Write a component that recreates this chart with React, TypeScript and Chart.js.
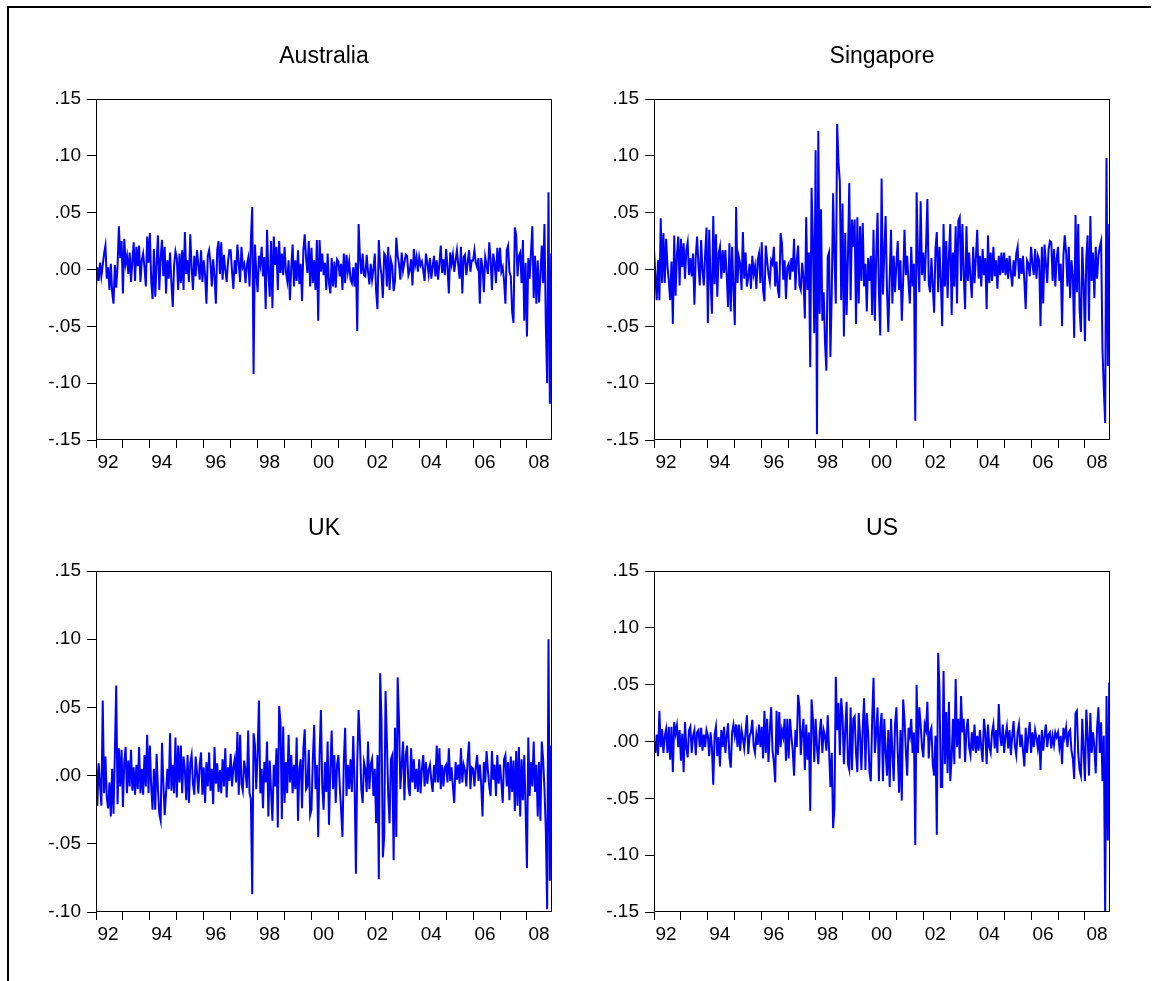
import React, { useEffect, useRef } from 'react';
import { Chart, registerables } from 'chart.js';

Chart.register(...registerables);

// ---- time axis ----
const years = [1992, 1993, 1994, 1995, 1996, 1997, 1998, 1999, 2000, 2001, 2002, 2003, 2004, 2005, 2006, 2007, 2008];
const obsPerYear = 20;
const xMin = 1992;
const xMax = 2008.93;
const xTickYears = years;
const xTickLabels = ['92', '', '94', '', '96', '', '98', '', '00', '', '02', '', '04', '', '06', '', '08'];

// ---- value axes ----
const yTicksWide = [-0.15, -0.1, -0.05, 0, 0.05, 0.1, 0.15];
const yLabelsWide = ['-.15', '-.10', '-.05', '.00', '.05', '.10', '.15'];
const yTicksUK = [-0.1, -0.05, 0, 0.05, 0.1, 0.15];
const yLabelsUK = ['-.10', '-.05', '.00', '.05', '.10', '.15'];

// ---- series: returns in thousandths, one row per year (1992..2008) ----
const australiaMilli: number[][] = [
  [-15, 2, -10, 6, -6, 4, 14, 21, -8, 2, -18, 5, -20, -30, 4, -16, 3, 38, 10, 25],
  [-21, 27, 5, 12, -4, 15, -11, 8, 24, -10, 20, 3, 21, -11, 8, 14, 2, -15, 29, 6],
  [32, -10, -26, 18, -24, 6, 30, -18, 10, 26, -6, 20, -21, 8, -8, 15, -12, -33, 4, 16],
  [10, -18, 14, -12, 17, -18, 33, -4, 8, -11, 31, 2, -18, 12, -6, 17, 4, -9, 17, -11],
  [8, -5, -30, 12, 17, 6, -15, 9, -6, -30, 17, 25, -4, 24, -9, 13, 0, -11, 6, 17],
  [17, -2, -17, 8, -4, 22, 6, -11, 20, 2, 5, -12, 4, 10, -15, 26, 55, -92, 22, -2],
  [-20, 12, 4, 20, -6, 11, -35, 35, -2, -24, 25, -34, 29, 4, 20, -18, 25, -3, 14, -5],
  [20, -2, -10, 8, -27, 2, 22, -15, 8, -10, 17, -13, 5, -28, 17, 31, 10, -3, 25, -15],
  [19, -12, 8, -18, 26, -45, 26, -2, 14, -5, 6, -18, 14, -12, -21, 10, -15, 7, -16, 9],
  [7, -6, 5, -18, 14, -12, 13, -2, 7, -9, -12, 2, -15, 6, -54, 40, 11, -4, 14, -5],
  [-6, 13, -2, -13, 5, -9, 0, 14, -19, -35, 26, 4, -5, -25, 14, 12, -15, 20, -18, 8],
  [3, -19, -10, 28, 12, 5, -9, 15, -1, 6, 13, 12, -5, -1, 9, -14, 18, 4, 11, -2],
  [11, 4, 7, -1, -10, 14, 6, -4, 10, -8, 3, 12, -6, 8, -9, 5, 21, -3, 9, -5],
  [18, 2, -21, 15, 5, 13, -2, 8, 17, 4, -8, 20, -21, 11, 13, -5, 6, 17, -2, 8],
  [8, 17, 6, 2, 10, -30, 10, 2, -20, 11, 4, -4, 24, 9, -18, 14, 6, -12, 19, -2],
  [19, -2, 2, -10, -30, 17, 21, -2, -6, -37, -47, 37, 30, -6, 12, 15, -12, 26, -45, 6],
  [-59, 10, -8, 15, 38, -25, 12, -30, 8, -29, -5, 21, -12, 40, -48, -100, 68, -118, 14],
];

const singaporeMilli: number[][] = [
  [18, -5, -27, 8, -27, 45, -12, 32, -12, 27, 3, -10, -27, 7, -48, 30, -23, 12, 29, -14],
  [27, 2, 23, -8, 17, 24, -5, 10, -6, 14, -31, 11, 29, 4, -14, 26, -1, -14, 14, 37],
  [-47, 35, -10, -39, 47, -13, 31, -24, 14, 20, -8, 17, -3, 17, -5, -33, 23, -37, 20, -18],
  [-49, 55, -12, 11, 5, -18, 33, -8, 15, -15, -6, 5, -17, 12, -4, 3, -17, 8, 14, -12],
  [24, -18, -28, 21, 8, -4, -11, 8, 5, 20, -15, 7, -18, -25, 32, 23, -9, 8, -26, 2],
  [5, -9, 10, -2, 27, -18, 8, 21, -14, -18, 6, -8, -43, 46, -18, 15, -86, 72, 25, -56],
  [105, -145, 122, -39, 53, -45, -20, -65, -89, 11, 15, -77, -20, 67, 10, -30, 128, 94, 77, -27],
  [58, -59, 32, -40, 10, 76, -27, 44, 20, 44, -48, 46, -30, 38, -10, 41, -15, 5, -37, 10],
  [-10, 12, -40, 35, -45, 12, 50, -20, -58, 80, -22, 15, 47, -18, -55, -8, 35, -30, 12, -20],
  [5, 25, -18, 8, -45, -10, 35, -5, 12, -12, -30, 20, -15, 5, -133, 68, 10, -20, 60, -5],
  [15, -10, 20, 62, -12, -20, 10, -15, -38, 18, 33, -20, 20, -10, -50, 40, -15, 25, -25, 12],
  [40, -40, 15, -15, 38, -30, 43, 46, -10, 40, -5, -35, 38, -10, 15, -8, -25, 20, -12, 10],
  [35, -8, 12, -15, 18, -5, 10, -35, 30, -12, 15, -10, 20, -6, 8, -17, 12, -5, 15, -3],
  [15, -5, 10, -8, 12, -3, -15, 8, -6, 14, 20, -8, 10, -4, 12, -10, -35, 8, 5, -6],
  [20, 5, -5, 18, -8, 12, 8, -50, 20, -30, 22, 5, -12, 18, 25, 24, -10, 18, -15, 10],
  [20, -10, 5, -50, 12, 30, 15, -15, 20, -25, 8, -5, -60, 48, -20, 40, -35, -55, 20, -10],
  [-63, 10, 30, -45, 47, -10, 15, -25, 20, -8, 12, 20, 25, -70, -105, -135, 98, -85, 40],
];

const ukMilli: number[][] = [
  [10, -22, 9, -7, -22, 55, -13, 14, -16, -24, -5, -30, 5, -28, 16, 66, -21, 20, -8, 19],
  [-23, 10, 21, -13, 11, -8, 19, -11, 6, -14, 8, -10, 21, -13, 5, -14, 15, -8, 30, -13],
  [22, -8, -25, 5, -25, 16, -10, -28, -33, 24, -5, -29, -13, 5, -10, 31, -11, 8, -13, 28],
  [-16, 22, -5, 22, -13, 14, 4, -18, 15, -20, 9, 15, -6, -14, 14, 2, -13, 8, 17, -14],
  [6, -20, 10, -8, 17, -11, 5, -21, 21, -6, 9, -12, 4, -13, 12, -8, 20, -16, 6, -4],
  [16, -8, 6, 12, -5, 32, -14, 30, -6, -11, 11, 4, -9, 33, -13, -17, -87, 31, 23, -10],
  [16, 55, -13, 5, -24, 10, -5, 25, -30, 11, -12, -33, 8, -8, 20, -38, 51, 39, -32, 36],
  [-20, 10, -13, 30, -5, 15, -13, 8, -10, 28, -33, 5, 12, -24, 20, 34, -10, -8, 19, -29],
  [-25, 12, 37, -10, 8, -45, 15, 48, -8, -25, 10, -12, 25, -36, 5, 33, -10, 15, -20, 8],
  [15, -8, -25, -45, 10, 35, -15, 8, -10, 12, -12, 29, -5, -72, 10, 48, 25, -10, -20, 10],
  [5, -12, 25, -10, 8, 12, -15, 5, -35, 15, -76, 75, 40, -60, -45, 62, 25, -15, -35, 12],
  [15, -62, 35, -45, 72, 40, -10, 8, 25, -18, 15, 22, -8, -15, 20, -5, 12, -10, 5, -12],
  [12, -13, 5, 15, -8, 10, -6, 4, 8, -4, -12, 8, -5, 22, -5, 20, -10, 8, -8, 6],
  [8, -5, 20, -4, 6, -8, -20, 10, -3, 8, -6, 20, -5, 8, 4, -8, 12, 25, -10, 6],
  [5, -8, 6, 15, -4, 8, -6, -30, 10, -5, 18, 4, -8, -15, 18, -3, 8, -15, 15, -6],
  [8, -5, -20, 12, 15, -8, 10, -18, 14, -12, 11, -26, 18, -22, 21, -30, 12, -18, 15, -25],
  [-68, 28, -15, 10, -8, 25, -12, 8, -30, 10, -33, 25, 12, -10, -40, -98, 100, -77, 22],
];

const usMilli: number[][] = [
  [0, -10, 6, -13, 27, -5, 11, -10, 5, 11, -10, 13, -16, 13, -27, 17, 7, 14, -5, 10],
  [-17, 7, -27, 17, -5, -14, 10, 13, -10, 5, 10, -12, 8, 10, -5, 12, -8, 6, -5, 10],
  [5, -13, 8, -5, -38, 6, 13, -13, 4, -22, 10, -5, 13, -10, 5, 16, -14, -23, 8, 15],
  [5, 15, -5, 15, -8, 10, 3, -6, 8, 23, -11, 5, 8, 19, -4, -10, 6, -3, 15, -5],
  [13, -15, 27, -10, 20, -18, 10, 30, -8, -18, -36, 27, -12, 26, -5, 10, 4, 20, -17, 20],
  [-15, 20, 5, -8, -30, 10, -5, 41, 30, -12, 8, 20, -25, 15, -16, 8, -61, 37, 20, -18],
  [20, -5, -20, 8, 20, -10, 10, 5, -8, 23, -8, -40, -10, -76, -58, 57, 10, 34, -12, 38],
  [22, -20, 10, 35, -20, -25, 30, -25, 20, 22, -10, -27, 25, 5, -25, 12, 38, -25, 25, 8],
  [-27, -35, 20, 56, -10, 8, 30, -35, 12, 25, -35, 20, -8, -30, 10, -40, 20, -10, -35, 15],
  [30, -10, -45, 10, -52, 37, 20, -8, -30, 12, 5, 20, -10, 8, -91, 50, -10, 30, 15, -5],
  [-14, 15, 10, 35, -15, 8, 12, -20, -30, 5, -82, 78, 45, -40, -40, 62, -20, 26, -28, 35],
  [-35, -15, 20, -20, 55, -5, 20, -15, 40, 8, 20, -18, 10, 20, -5, -12, 8, -8, 15, -10],
  [5, -8, 10, -5, -18, 20, 8, -20, 15, -5, -10, 8, 15, -6, 10, -10, 33, 5, -4, 15],
  [-10, 5, 13, -6, 10, -12, 5, 18, -4, -12, 8, 15, -5, 6, -8, -22, 12, -10, 5, 17],
  [-10, 8, -5, 10, 3, -6, 6, -25, 10, -8, 5, 15, -5, 6, 8, -6, 5, -3, 8, 4],
  [8, -5, 5, -20, 12, 4, 12, -5, 8, 10, -8, -15, -33, 25, 27, -10, -25, -30, 20, -8],
  [-35, 28, 5, -30, 25, -10, 8, -5, -28, 12, 30, -10, 17, -35, 5, -150, 40, -87, 52],
];

const FONT = '"Liberation Sans", Arial, Helvetica, sans-serif';
const CANVAS_W = 552;
const CANVAS_H = 460;

type PanelProps = {
  title: string;
  rows: number[][];
  yTicks: number[];
  yLabels: string[];
  left: number;
  top: number;
};

function Panel({ title, rows, yTicks, yLabels, left, top }: PanelProps) {
  const ref = useRef<HTMLCanvasElement | null>(null);

  useEffect(() => {
    const canvas = ref.current;
    if (!canvas) return;
    const points = rows.flatMap((row, r) =>
      row.map((v, k) => ({ x: years[r] + k / obsPerYear, y: v / 1000 }))
    );
    const decor = {
      id: 'decor',
      afterDraw(chart: any) {
        const { ctx, chartArea: a } = chart;
        ctx.save();
        ctx.strokeStyle = '#000';
        ctx.lineWidth = 1;
        ctx.strokeRect(
          Math.round(a.left) + 0.5,
          Math.round(a.top) + 0.5,
          Math.round(a.right - a.left) - 1,
          Math.round(a.bottom - a.top) - 1
        );
        ctx.fillStyle = '#000';
        ctx.font = `23px ${FONT}`;
        ctx.textAlign = 'center';
        ctx.textBaseline = 'middle';
        ctx.fillText(title, (a.left + a.right) / 2, a.top - 42);
        ctx.restore();
      },
    };
    const chart = new Chart(canvas, {
      type: 'line',
      data: {
        datasets: [
          {
            data: points,
            borderColor: '#0000FF',
            borderWidth: 2,
            pointRadius: 0,
            fill: false,
            tension: 0,
            borderJoinStyle: 'miter',
          },
        ],
      },
      options: {
        animation: false,
        responsive: false,
        events: [],
        layout: { padding: { left: 16, top: 69, right: 20, bottom: 10 } },
        plugins: {
          legend: { display: false },
          tooltip: { enabled: false },
          title: { display: false },
        },
        scales: {
          x: {
            type: 'linear',
            min: xMin,
            max: xMax,
            afterBuildTicks: (scale: any) => {
              scale.ticks = xTickYears.map((v) => ({ value: v }));
            },
            afterFit: (scale: any) => {
              scale.height = 40;
            },
            border: { display: false },
            grid: { drawOnChartArea: false, drawTicks: true, tickLength: 8, color: '#000', lineWidth: 1 },
            ticks: {
              autoSkip: false,
              maxRotation: 0,
              minRotation: 0,
              labelOffset: 12,
              padding: 3,
              color: '#000',
              font: { family: FONT, size: 19 },
              callback: (_v: any, i: number) => xTickLabels[i] ?? '',
            },
          },
          y: {
            type: 'linear',
            min: yTicks[0],
            max: yTicks[yTicks.length - 1],
            afterBuildTicks: (scale: any) => {
              scale.ticks = yTicks.map((v) => ({ value: v }));
            },
            afterFit: (scale: any) => {
              scale.width = 60;
            },
            border: { display: false },
            grid: { drawOnChartArea: false, drawTicks: true, tickLength: 9, color: '#000', lineWidth: 1 },
            ticks: {
              autoSkip: false,
              padding: 6,
              color: '#000',
              font: { family: FONT, size: 19 },
              callback: (_v: any, i: number) => yLabels[i] ?? '',
            },
          },
        },
      },
      plugins: [decor],
    });
    return () => chart.destroy();
  }, [title, rows, yTicks, yLabels]);

  return (
    <canvas
      ref={ref}
      width={CANVAS_W}
      height={CANVAS_H}
      style={{ position: 'absolute', left, top, width: CANVAS_W, height: CANVAS_H }}
    />
  );
}

export default function App() {
  return (
    <div
      style={{
        position: 'absolute',
        left: 0,
        top: 0,
        width: 1156,
        height: 981,
        overflow: 'hidden',
        background: '#fff',
      }}
    >
      <div style={{ position: 'absolute', left: 7, top: 6, width: 1144, height: 2, background: '#000' }} />
      <div style={{ position: 'absolute', left: 7, top: 6, width: 2, height: 975, background: '#000' }} />
      <Panel title="Australia" rows={australiaMilli} yTicks={yTicksWide} yLabels={yLabelsWide} left={20} top={30} />
      <Panel title="Singapore" rows={singaporeMilli} yTicks={yTicksWide} yLabels={yLabelsWide} left={578} top={30} />
      <Panel title="UK" rows={ukMilli} yTicks={yTicksUK} yLabels={yLabelsUK} left={20} top={502} />
      <Panel title="US" rows={usMilli} yTicks={yTicksWide} yLabels={yLabelsWide} left={578} top={502} />
    </div>
  );
}
